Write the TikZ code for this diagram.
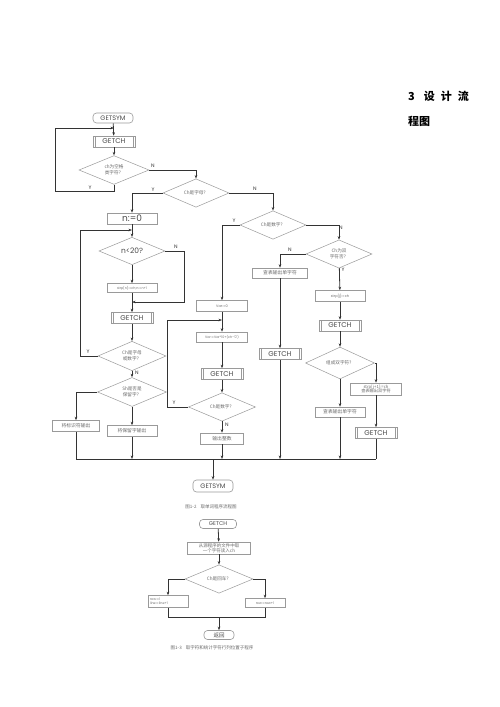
\documentclass[tikz,border=0pt]{standalone}
\usepackage{fontspec}
\newfontfamily\cjk{Noto Sans CJK SC}
\newfontfamily\lat{Poppins}
\usetikzlibrary{shapes.geometric,arrows.meta}
\definecolor{linec}{HTML}{333333}
\definecolor{boxc}{HTML}{9A9A9A}
\definecolor{txtc}{HTML}{6A6A6A}
\definecolor{darkt}{HTML}{4A4A4A}
\tikzset{
  ln/.style={draw=linec,line width=0.8pt},
  arr/.style={ln,-{Stealth[length=3.5pt,width=2.6pt]}},
  bx/.style={draw=boxc,line width=0.5pt,fill=white,inner sep=0.5pt,align=center,text=txtc,
    font=\cjk\fontsize{4.8}{5.6}\selectfont},
  dia/.style={diamond,draw=boxc,line width=0.5pt,fill=white,inner sep=0pt,align=center,text=txtc,
    font=\cjk\fontsize{4.6}{5.6}\selectfont},
  gch/.style={bx,font=\lat\fontsize{7}{8}\selectfont,text=darkt,minimum width=42pt,minimum height=11pt,
    path picture={\draw[boxc,line width=0.4pt]
      ([xshift=2.2pt]path picture bounding box.south west) -- ([xshift=2.2pt]path picture bounding box.north west)
      ([xshift=-2.2pt]path picture bounding box.south east) -- ([xshift=-2.2pt]path picture bounding box.north east);}},
  term/.style={draw=boxc,line width=0.6pt,rounded corners=3.5pt,fill=white,inner sep=0pt,text=darkt,
    font=\lat\fontsize{6.5}{7}\selectfont},
  lbl/.style={font=\lat\fontsize{5}{6}\selectfont,text=linec,inner sep=0pt},
  head/.style={font=\cjk\bfseries\fontsize{11}{12}\selectfont,text=black,inner sep=0pt,anchor=west},
  capt/.style={font=\cjk\fontsize{4.5}{5}\selectfont,text=txtc,inner sep=0pt}
}
\begin{document}
\begin{tikzpicture}[x=1pt,y=-1pt]
\fill[white] (0,0) rectangle (500,707);
\useasboundingbox (0,0) rectangle (500,707);

% heading
\node[head] (h1) at (408,96) {3\hspace{9pt}设\hspace{6pt}计\hspace{6pt}流};
\node[head] (h2) at (408,121) {程图};

% ---------- figure 1-2 ----------
\node[term,minimum width=40pt,minimum height=10pt] (gs1) at (113,118) {GETSYM};
\node[gch] (g1) at (114,141.5) {GETCH};
\node[dia,minimum width=70pt,minimum height=24pt] (d1) at (114,170) {ch为空格\\类字符？};
\node[dia,minimum width=66pt,minimum height=20pt] (d2) at (196,193) {Ch是字母？};
\node[bx,font=\lat\fontsize{9}{10}\selectfont,text=darkt,minimum width=50pt,minimum height=11pt] (n0) at (132,218.5) {n:=0};
\node[dia,minimum width=66pt,minimum height=21pt] (d3) at (273,225) {Ch是数字？};
\node[dia,minimum width=66pt,minimum height=22pt] (d4) at (339,254) {Ch为双\\字符否？};

\node[dia,font=\lat\fontsize{7.5}{8}\selectfont,text=darkt,minimum width=66pt,minimum height=22pt] (lt) at (132,251) {n<20?};
\node[bx,font=\lat\fontsize{3.3}{4}\selectfont,minimum width=50pt,minimum height=9pt] (sn) at (132,288) {strp[n]:=ch;n:=n+1};
\node[gch] (g2) at (132,318) {GETCH};
\node[dia,minimum width=68pt,minimum height=20pt] (d6) at (132,356) {Ch是字母\\或数字？};
\node[dia,minimum width=69pt,minimum height=21pt] (d7) at (132,392) {Sh是否是\\保留字？};
\node[bx,minimum width=47pt,minimum height=11pt] (oid) at (76,426) {将标识符输出};
\node[bx,minimum width=50pt,minimum height=11pt] (okw) at (132,431) {将保留字输出};

\node[bx,font=\lat\fontsize{3.5}{4}\selectfont,minimum width=51pt,minimum height=11pt] (v0) at (222,306) {Var:=0};
\node[bx,font=\lat\fontsize{3.3}{4}\selectfont,minimum width=51pt,minimum height=10pt] (vc) at (222,337) {Var:=Var*10+(ch-'0')};
\node[gch] (g3) at (222,374) {GETCH};
\node[dia,minimum width=67pt,minimum height=20pt] (d8) at (222,407) {Ch是数字？};
\node[bx,minimum width=43pt,minimum height=11pt] (oint) at (222,438.5) {输出整数};

\node[bx,minimum width=55pt,minimum height=10pt] (os1) at (280,273) {查表输出单字符};
\node[gch] (g4) at (280,354) {GETCH};
\node[bx,font=\lat\fontsize{3.5}{4}\selectfont,minimum width=50pt,minimum height=11pt] (sj) at (340,296) {strp[j]:=ch};
\node[gch] (g5) at (340,325.5) {GETCH};
\node[dia,minimum width=69pt,minimum height=20pt] (d5) at (340,363) {组成双字符？};
\node[bx,minimum width=50pt,minimum height=10pt] (os2) at (340,412) {查表输出单字符};
\node[bx,minimum width=51pt,minimum height=12pt,font=\cjk\fontsize{4.2}{4.8}\selectfont] (sj1) at (376,389) {strp[j+1]:=ch\\查表输出双字符};
\node[gch] (g6) at (376,433) {GETCH};

\node[term,minimum width=40pt,minimum height=12pt] (gs2) at (213,486) {GETSYM};
\node[capt] (cap1) at (211,507) {图1-2\hspace{4pt}取单词程序流程图};

% junctions
\coordinate (j1) at (114,128);
\coordinate (L1) at (55,191);
\coordinate (j2) at (132,230);
\coordinate (L3) at (80,230);
\coordinate (j3) at (132,302);
\coordinate (L2) at (184,302);
\coordinate (j4) at (222,320);
\coordinate (L4) at (167,320);
\coordinate (cL) at (76,459);
\coordinate (cR) at (376,459);

% connectors
\draw[arr] (gs1) -- (g1);
\draw[arr] (g1) -- (d1);
\draw[arr] (d1.south) |- (L1) |- (j1);
\draw[arr] (d1.east) -| (d2.north);
\draw[arr] (d2.west) -| (n0.north);
\draw[arr] (d2.east) -| (d3.north);
\draw[arr] (n0) -- (lt);
\draw[arr] (lt) -- (sn);
\draw[arr] (sn) -- (g2);
\draw[arr] (lt.east) -| (L2) -- (j3);
\draw[arr] (g2) -- (d6);
\draw[arr] (d6.west) -| (L3) -- (j2);
\draw[arr] (d6) -- (d7);
\draw[arr] (d7.west) -| (oid.north);
\draw[arr] (d7) -- (okw);
\draw[ln] (oid.south) -- (cL);
\draw[arr] (okw) -- (okw |- cL);

\draw[arr] (d3.west) -| (v0.north);
\draw[arr] (v0) -- (vc);
\draw[arr] (vc) -- (g3);
\draw[arr] (g3) -- (d8);
\draw[arr] (d8.west) -| (L4) -- (j4);
\draw[arr] (d8) -- (oint);
\draw[arr] (oint) -- (oint |- cL);

\draw[arr] (d3.east) -| (d4.north);
\draw[arr] (d4.west) -| (os1.north);
\draw[arr] (os1) -- (g4);
\draw[arr] (g4) -- (g4 |- cL);
\draw[arr] (d4) -- (sj);
\draw[arr] (sj) -- (g5);
\draw[arr] (g5) -- (d5);
\draw[arr] (d5) -- (os2);
\draw[arr] (os2) -- (os2 |- cL);
\draw[arr] (d5.east) -| (sj1.north);
\draw[arr] (sj1) -- (g6);
\draw[ln] (g6.south) -- (cR);
\draw[ln] (cL) -- (cR);
\draw[arr] (gs2 |- cL) -- (gs2);

% labels
\node[lbl] (y1) at (90,188) {Y};
\node[lbl] (n1) at (153,166) {N};
\node[lbl] (y2) at (153,190) {Y};
\node[lbl] (n2) at (255,189) {N};
\node[lbl] (y3) at (234,221) {Y};
\node[lbl] (n3) at (341,228) {N};
\node[lbl] (n4) at (290,250) {N};
\node[lbl] (y4) at (343,270) {Y};
\node[lbl] (n5) at (176,247) {N};
\node[lbl] (y5) at (88,352) {Y};
\node[lbl] (n6) at (137,373) {N};
\node[lbl] (y6) at (174,403) {Y};
\node[lbl] (n7) at (227,425) {N};

% ---------- figure 1-3 ----------
\node[term,minimum width=37pt,minimum height=9pt,font=\lat\fontsize{5.5}{6}\selectfont] (gt) at (218,524) {GETCH};
\node[bx,minimum width=63pt,minimum height=12pt,font=\cjk\fontsize{4.5}{5}\selectfont] (rd) at (219,548) {从源程序的文件中取\\一个字符读入ch};
\node[dia,minimum width=68pt,minimum height=19pt] (dcr) at (219,579) {Ch是回车？};
\node[bx,align=left,font=\lat\fontsize{3.3}{4.2}\selectfont,minimum width=40pt,minimum height=12pt,text width=36pt] (r1) at (168,601.5) {row:=1\\line:=line+1};
\node[bx,font=\lat\fontsize{3.3}{4}\selectfont,minimum width=40pt,minimum height=9pt] (r2) at (265,603) {row:=row+1};
\node[term,minimum width=30pt,minimum height=9pt,font=\cjk\fontsize{5.5}{6}\selectfont] (ret) at (219,635) {返回};
\node[capt] (cap2) at (212,648) {图1-3\hspace{4pt}取字符和统计字符行列位置子程序};
\coordinate (j5) at (219,617);

\draw[arr] (gt) -- (rd);
\draw[arr] (rd) -- (dcr);
\draw[arr] (dcr.west) -| (r1.north);
\draw[arr] (dcr.east) -| (r2.north);
\draw[ln] (r1.south) |- (j5);
\draw[ln] (r2.south) |- (j5);
\draw[arr] (j5) -- (ret);
\end{tikzpicture}
\end{document}
